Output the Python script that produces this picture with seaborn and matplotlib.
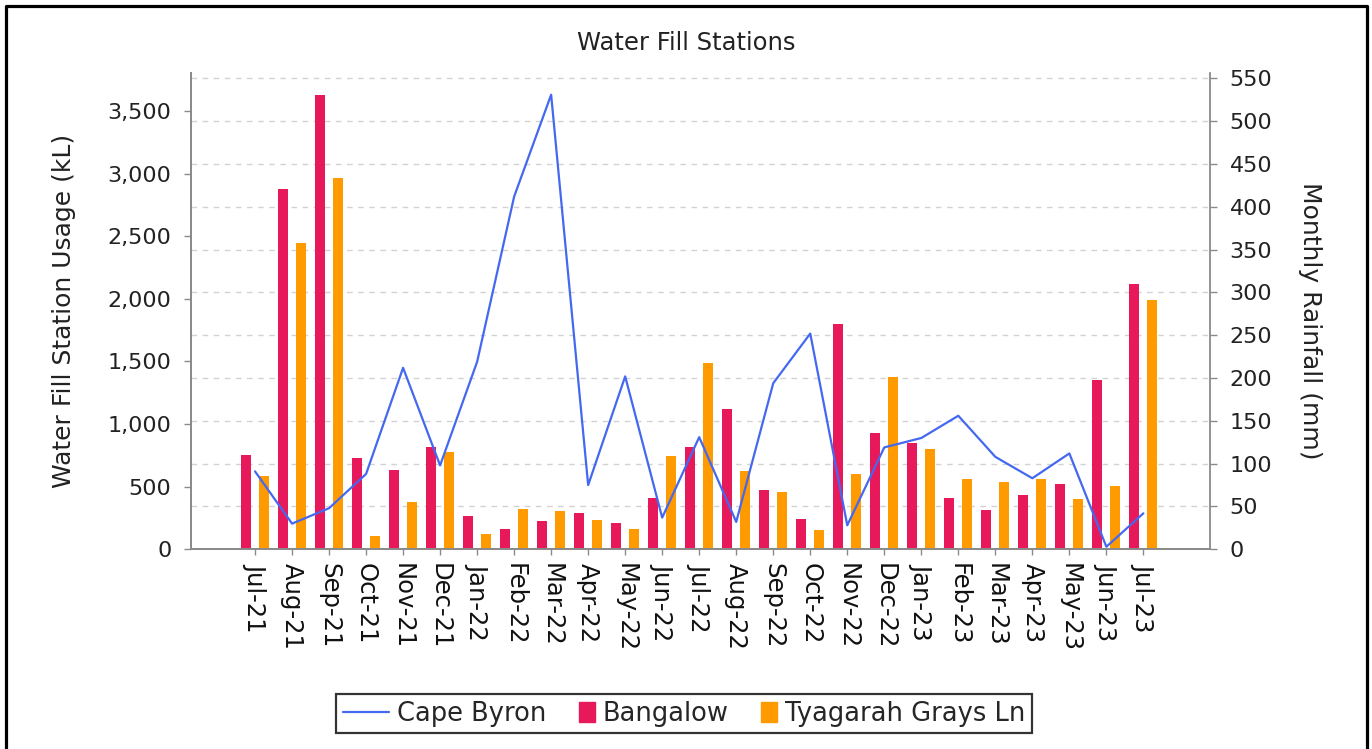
import numpy as np
import pandas as pd
import matplotlib
matplotlib.use("Agg")
import matplotlib.pyplot as plt
import matplotlib.patches as mpatches
from matplotlib.lines import Line2D
from matplotlib.legend_handler import HandlerPatch
from matplotlib.ticker import FuncFormatter, MultipleLocator
from matplotlib.transforms import blended_transform_factory
import seaborn as sns

# data
months = ["Jul-21", "Aug-21", "Sep-21", "Oct-21", "Nov-21", "Dec-21",
          "Jan-22", "Feb-22", "Mar-22", "Apr-22", "May-22", "Jun-22",
          "Jul-22", "Aug-22", "Sep-22", "Oct-22", "Nov-22", "Dec-22",
          "Jan-23", "Feb-23", "Mar-23", "Apr-23", "May-23", "Jun-23", "Jul-23"]
bangalow = [750, 2880, 3630, 730, 630, 815, 265, 160, 225, 290, 210, 410,
            815, 1120, 470, 245, 1800, 930, 850, 410, 315, 435, 525, 1350, 2115]
tyagarah = [585, 2445, 2965, 105, 375, 780, 120, 325, 305, 230, 160, 745,
            1485, 625, 455, 155, 605, 1375, 800, 560, 535, 565, 405, 505, 1990]
rainfall = [91, 30, 48, 88, 212, 98, 219, 412, 531, 75, 202, 37,
            131, 32, 194, 252, 28, 119, 130, 156, 108, 83, 112, 3, 42]

PINK = "#E8195B"
ORANGE = "#FF9A00"
BLUE = "#4468F0"
AXC = "#8a8a8a"

sns.set_theme(style="white")
plt.rcParams["font.family"] = ["DejaVu Sans"]

usage = pd.DataFrame({
    "month": months * 2,
    "kL": bangalow + tyagarah,
    "station": ["Bangalow"] * len(months) + ["Tyagarah Grays Ln"] * len(months),
})
rain = pd.DataFrame({"idx": np.arange(len(months)), "mm": rainfall})

fig = plt.figure(figsize=(13.72, 7.49), dpi=100)
ax = fig.add_axes([191 / 1372, 1 - 549.3 / 749, 1019 / 1372, 476 / 749])

sns.barplot(data=usage, x="month", y="kL", hue="station", order=months,
            palette=[PINK, ORANGE], saturation=1, width=0.97, gap=0.44,
            errorbar=None, linewidth=0, legend=False, ax=ax, zorder=2)

ax2 = ax.twinx()
sns.lineplot(data=rain, x="idx", y="mm", color=BLUE, lw=1.6, ax=ax2)

ax.set_xlim(-1.73, 25.8)
ax.set_ylim(0, 3800)
ax2.set_ylim(0, 556)

# dashed grid follows the rainfall axis but sits behind the bars
trans = blended_transform_factory(ax.transAxes, ax2.transData)
ax.hlines(np.arange(50, 551, 50), 0, 1, transform=trans, colors="#d2d2d2",
          linestyles=(0, (4, 4)), linewidth=1, zorder=0.5)

ax.yaxis.set_major_locator(MultipleLocator(500))
ax.yaxis.set_major_formatter(FuncFormatter(lambda v, p: f"{int(v):,}"))
ax2.yaxis.set_major_locator(MultipleLocator(50))

for a in (ax, ax2):
    for s in a.spines.values():
        s.set_color(AXC)
        s.set_linewidth(1.3)
    a.spines["top"].set_visible(False)
ax.spines["right"].set_visible(False)

ax.tick_params(axis="y", left=True, length=5, width=1, color=AXC, pad=9,
               labelsize=16, labelcolor="#222")
ax2.tick_params(axis="y", right=True, length=5, width=1, color=AXC, pad=9,
                labelsize=16, labelcolor="#222")
ax.tick_params(axis="x", bottom=True, length=4, width=1, color=AXC, pad=6,
               labelsize=17.5, labelcolor="#111")
ax.set_xticks(np.arange(len(months)))
ax.set_xticklabels(months, rotation=270, ha="center", va="top")

ax.set_xlabel("")
ax.set_ylabel("Water Fill Station Usage (kL)", fontsize=18, color="#222")
ax.yaxis.set_label_coords(-0.113, 0.5)
ax2.set_ylabel("Monthly Rainfall (mm)", fontsize=18, color="#222",
               rotation=270, va="center")
ax2.yaxis.set_label_coords(1.098, 0.48)

fig.text(0.5, 1 - 43 / 749, "Water Fill Stations", ha="center", va="center",
         fontsize=17.5, color="#222")


def square(legend, orig_handle, xdescent, ydescent, width, height, fontsize):
    w = 0.62 * fontsize
    h = 0.78 * fontsize
    return mpatches.Rectangle((-xdescent + width - w, -ydescent + (height - h) / 2), w, h)


handles = [Line2D([], [], color=BLUE, lw=1.6),
           mpatches.Patch(color=PINK), mpatches.Patch(color=ORANGE)]
labels = ["Cape Byron", "Bangalow", "Tyagarah Grays Ln"]
leg = fig.legend(handles, labels, loc="center", bbox_to_anchor=(0.4985, 0.047),
                 ncol=3, frameon=True, fancybox=False, edgecolor="black",
                 fontsize=18.5, handlelength=1.8, handletextpad=0.3,
                 columnspacing=0.1, borderpad=0.25, borderaxespad=0,
                 handler_map={mpatches.Patch: HandlerPatch(patch_func=square)})
leg.get_frame().set_linewidth(1.6)

# outer frame of the picture (open at the bottom)
fig.add_artist(Line2D([5.5 / 1372, 5.5 / 1372, 1366.5 / 1372, 1366.5 / 1372],
                      [0, 1 - 6 / 749, 1 - 6 / 749, 0],
                      transform=fig.transFigure, color="black", lw=2.3))

fig.savefig("out.png", dpi=100)
